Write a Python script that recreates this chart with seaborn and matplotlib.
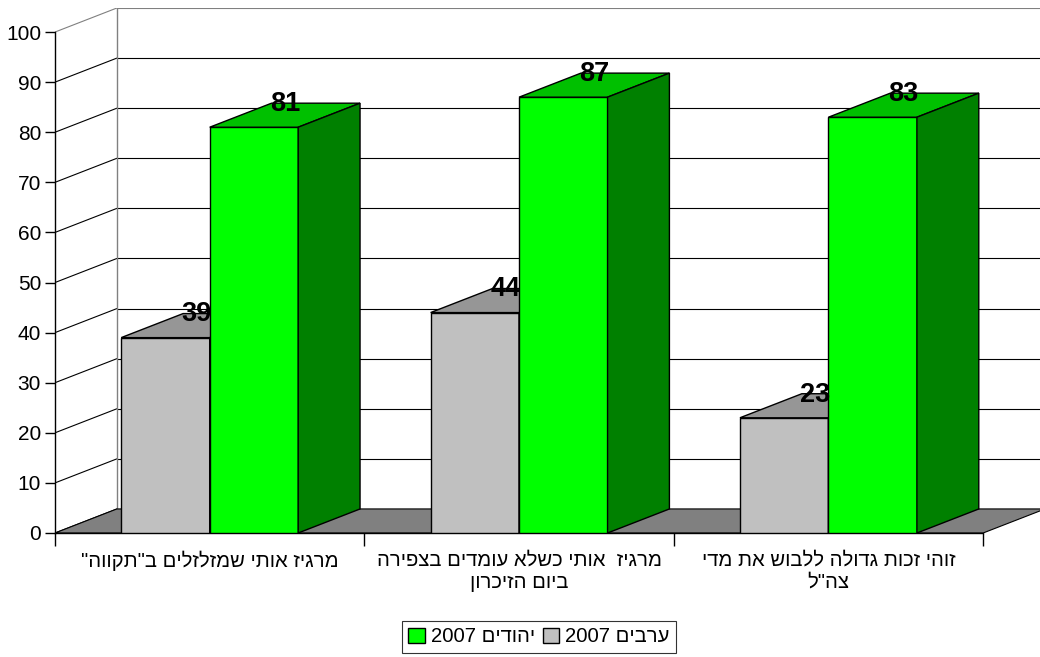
import pandas as pd
import matplotlib.pyplot as plt
import seaborn as sns
from matplotlib.patches import Polygon, Patch

# נתונים
categories = [
    'מרגיז אותי שמזלזלים ב"תקווה"',
    'מרגיז  אותי כשלא עומדים בצפירה\nביום הזיכרון',
    'זוהי זכות גדולה ללבוש את מדי\nצה"ל',
]
groups = ['ערבים 2007', 'יהודים 2007']
arabs_2007 = [39, 44, 23]
jews_2007 = [81, 87, 83]
y_ticks = list(range(0, 101, 10))

front_colors = ['#C0C0C0', '#00FF00']
top_colors = ['#969696', '#00C000']
side_colors = ['#808080', '#008000']

# עומק תלת-ממדי ביחידות הצירים
DX, DY = 0.2, 4.8


def rtl(text):
    # matplotlib אינו תומך בכיווניות — היפוך ידני לסדר חזותי
    lines = []
    for line in text.split('\n'):
        words = line.split(' ')
        lines.append(' '.join(w if w.isdigit() else w[::-1] for w in reversed(words)))
    return '\n'.join(lines)


df = pd.DataFrame({
    'cat': categories * 2,
    'group': [groups[0]] * len(categories) + [groups[1]] * len(categories),
    'value': arabs_2007 + jews_2007,
})

sns.set_style('white')
plt.rcParams['font.family'] = ['Liberation Sans', 'DejaVu Sans']
plt.rcParams['text.color'] = 'black'
plt.rcParams['xtick.color'] = 'black'
plt.rcParams['ytick.color'] = 'black'
plt.rcParams['axes.labelcolor'] = 'black'

fig = plt.figure(figsize=(10.4, 6.57), dpi=100)
ax = fig.add_axes([55 / 1040, 124 / 657, 990 / 1040, 525 / 657])

# קירות ורשת
for v in y_ticks:
    c = '#808080' if v == 100 else 'black'
    ax.plot([-0.5, -0.5 + DX], [v, v + DY], color=c, lw=0.8, zorder=0.5)
    ax.plot([-0.5 + DX, 2.5 + DX], [v + DY, v + DY], color=c, lw=0.8, zorder=0.5)
ax.plot([-0.5 + DX, -0.5 + DX], [DY, 100 + DY], color='#808080', lw=1, zorder=0.6)

floor = Polygon([(-0.5, 0), (2.5, 0), (2.5 + DX, DY), (-0.5 + DX, DY)],
                closed=True, fc='#808080', ec='black', lw=0.8, zorder=1)
ax.add_patch(floor)

sns.barplot(data=df, x='cat', y='value', hue='group', hue_order=groups,
            palette=front_colors, width=0.572, edgecolor='black', linewidth=1,
            saturation=1, legend=False, ax=ax)

for i, cont in enumerate(ax.containers):
    for bar in cont:
        bar.set_zorder(3 + i)
        x0, w, h = bar.get_x(), bar.get_width(), bar.get_height()
        x1 = x0 + w
        top = Polygon([(x0, h), (x1, h), (x1 + DX, h + DY), (x0 + DX, h + DY)],
                      closed=True, fc=top_colors[i], ec='black', lw=1, zorder=3 + i)
        side = Polygon([(x1, 0), (x1 + DX, DY), (x1 + DX, h + DY), (x1, h)],
                       closed=True, fc=side_colors[i], ec='black', lw=1, zorder=3 + i)
        ax.add_patch(top)
        ax.add_patch(side)
        ax.annotate(f'{h:.0f}', xy=(x0 + w / 2 + DX / 2, h + DY / 2),
                    xytext=(0, 8), textcoords='offset points', ha='center',
                    va='center', fontsize=19.5, fontweight='bold', color='black',
                    zorder=10)

ax.set_xlim(-0.5, 2.5 + DX)
ax.set_ylim(0, 100 + DY)
ax.set_xlabel('')
ax.set_ylabel('')

ax.set_yticks(y_ticks)
ax.set_xticks([-0.5, 0.5, 1.5, 2.5], labels=['', '', '', ''])
ax.set_xticks([0, 1, 2], labels=[rtl(c) for c in categories], minor=True)
ax.tick_params(axis='y', length=7, width=1, labelsize=15, pad=3, left=True)
ax.tick_params(axis='x', which='major', length=9, width=1, bottom=True)
ax.tick_params(axis='x', which='minor', length=0, pad=13, labelsize=14.6)

for s in ['top', 'right']:
    ax.spines[s].set_visible(False)
ax.spines['left'].set_bounds(0, 100)
ax.spines['bottom'].set_bounds(-0.5, 2.5)
for s in ['left', 'bottom']:
    ax.spines[s].set_color('black')
    ax.spines[s].set_linewidth(1)
    ax.spines[s].set_zorder(2)

handles = [
    Patch(fc=front_colors[1], ec='black', label=rtl(groups[1])),
    Patch(fc=front_colors[0], ec='black', label=rtl(groups[0])),
]
leg = fig.legend(handles=handles, loc='center', bbox_to_anchor=(539 / 1040, 1 - 637 / 657),
                 ncol=2, frameon=True, fancybox=False, edgecolor='black',
                 handlelength=0.8, handleheight=0.8, handletextpad=0.3,
                 columnspacing=0.4, borderpad=0.3, fontsize=14.6)
leg.get_frame().set_linewidth(0.8)

fig.savefig('out.png', dpi=100)
